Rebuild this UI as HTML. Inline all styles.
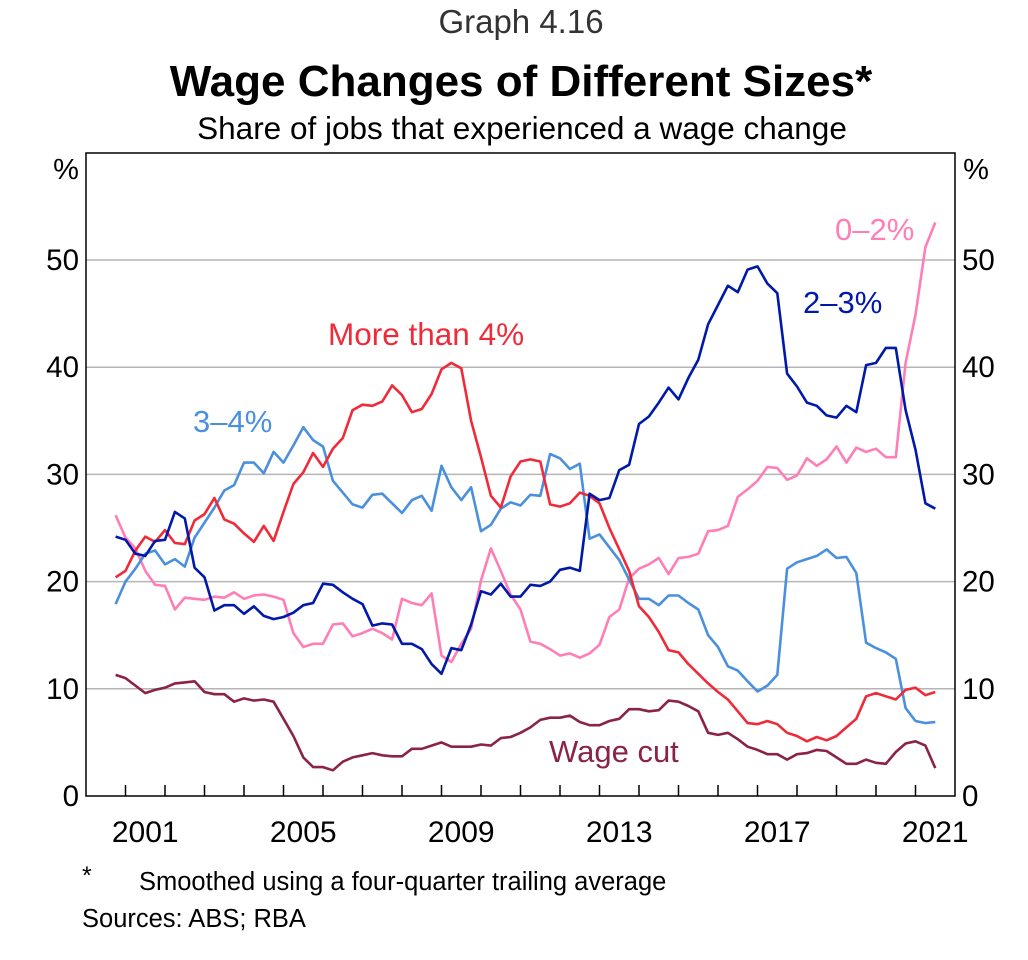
<!DOCTYPE html>
<html><head><meta charset="utf-8">
<style>
body{margin:0;background:#fff;}
svg text{font-family:"Liberation Sans",Arial,sans-serif;}
</style></head>
<body>
<svg id="chart" width="1028" height="955" viewBox="0 0 1028 955" xmlns="http://www.w3.org/2000/svg">
<text x="521" y="33" font-size="33" fill="#333" text-anchor="middle">Graph 4.16</text>
<text x="521" y="96" font-size="44" font-weight="bold" fill="#000" text-anchor="middle">Wage Changes of Different Sizes*</text>
<text x="522" y="139" font-size="31.5" fill="#000" text-anchor="middle">Share of jobs that experienced a wage change</text>
<g id="grid"></g>
<g id="series"></g>
<rect x="86" y="153" width="869" height="643" fill="none" stroke="#000" stroke-width="1.5"/>
<g id="axes"></g>
<text x="66" y="179" font-size="29" text-anchor="middle">%</text>
<text x="976" y="179" font-size="29" text-anchor="middle">%</text>
<text x="835" y="240" font-size="31" fill="#ff7eb6">0–2%</text>
<text x="803" y="313" font-size="31" fill="#0019a8">2–3%</text>
<text x="328" y="345" font-size="31.5" fill="#ef2b3a">More than 4%</text>
<text x="193" y="432" font-size="31" fill="#4a90dd">3–4%</text>
<text x="549" y="762" font-size="31" fill="#8b2346">Wage cut</text>
<text x="82" y="884" font-size="25">*</text>
<text x="139" y="890" font-size="25.5">Smoothed using a four-quarter trailing average</text>
<text x="82" y="927" font-size="25.5">Sources: ABS; RBA</text>
</svg>
<script>
const startYear = 2000.75;
const yTicks = [0,10,20,30,40,50];
const xLabels = ["2001","2005","2009","2013","2017","2021"];
const s34 = [17.9,20.0,21.2,22.6,22.9,21.6,22.1,21.4,24.1,25.5,26.9,28.5,29.0,31.1,31.1,30.1,32.1,31.1,32.7,34.4,33.2,32.6,29.4,28.3,27.2,26.9,28.1,28.2,27.3,26.4,27.6,28.0,26.6,30.8,28.8,27.6,28.8,24.7,25.3,26.8,27.4,27.1,28.1,28.0,31.9,31.5,30.5,31.0,24.0,24.4,23.2,22.0,20.2,18.4,18.4,17.8,18.7,18.7,18.0,17.4,15.0,13.9,12.1,11.7,10.7,9.75,10.3,11.3,21.2,21.8,22.1,22.4,23.0,22.2,22.3,20.8,14.3,13.8,13.4,12.8,8.2,7.0,6.8,6.9];
const s4plus = [20.4,21.0,22.9,24.2,23.7,24.8,23.6,23.5,25.7,26.3,27.8,25.8,25.4,24.5,23.7,25.2,23.8,26.5,29.1,30.2,32.0,30.7,32.4,33.4,36.0,36.5,36.4,36.8,38.3,37.4,35.8,36.1,37.5,39.8,40.4,39.9,35.0,31.6,28.0,26.9,29.8,31.2,31.4,31.2,27.2,27.0,27.3,28.3,28.0,27.3,25.0,23.0,21.0,17.7,16.7,15.3,13.6,13.4,12.3,11.4,10.5,9.7,9.0,7.9,6.8,6.7,7.0,6.7,5.9,5.6,5.1,5.5,5.2,5.6,6.4,7.2,9.3,9.6,9.3,9.0,9.9,10.1,9.4,9.7];
const s23 = [24.2,23.9,22.6,22.4,23.8,23.9,26.5,25.9,21.3,20.4,17.3,17.8,17.8,17.0,17.7,16.8,16.5,16.7,17.1,17.8,18.0,19.8,19.7,19.0,18.4,17.9,15.9,16.1,16.0,14.2,14.2,13.7,12.3,11.4,13.8,13.6,16.0,19.1,18.8,19.8,18.6,18.6,19.7,19.6,20.0,21.1,21.3,21.0,28.2,27.6,27.8,30.4,30.9,34.7,35.4,36.7,38.1,37.0,39.0,40.7,44.0,45.8,47.6,47.0,49.1,49.4,47.8,46.9,39.4,38.2,36.7,36.4,35.5,35.3,36.4,35.8,40.2,40.4,41.8,41.8,36.0,32.3,27.3,26.8];
const s02 = [26.2,24.1,23.1,21.0,19.7,19.6,17.4,18.5,18.4,18.3,18.6,18.5,19.0,18.4,18.7,18.8,18.6,18.3,15.2,13.9,14.2,14.2,16.0,16.1,14.9,15.2,15.6,15.2,14.6,18.4,18.0,17.8,18.9,13.1,12.5,14.2,15.6,20.1,23.1,21.0,18.8,17.4,14.4,14.2,13.7,13.1,13.3,12.9,13.3,14.1,16.7,17.4,20.3,21.2,21.6,22.2,20.7,22.2,22.3,22.6,24.7,24.8,25.2,27.9,28.6,29.4,30.7,30.6,29.5,29.9,31.5,30.8,31.4,32.6,31.1,32.5,32.1,32.4,31.6,31.6,40.4,44.9,51.2,53.5];
const sCut = [11.3,11.0,10.3,9.6,9.9,10.1,10.5,10.6,10.7,9.7,9.5,9.5,8.8,9.1,8.9,9.0,8.8,7.2,5.6,3.6,2.7,2.7,2.4,3.2,3.6,3.8,4.0,3.8,3.7,3.7,4.4,4.4,4.7,5.0,4.6,4.6,4.6,4.8,4.7,5.4,5.5,5.9,6.4,7.1,7.3,7.3,7.5,6.9,6.6,6.6,7.0,7.2,8.1,8.1,7.9,8.0,8.9,8.8,8.4,7.9,5.9,5.7,5.9,5.3,4.6,4.3,3.9,3.9,3.4,3.9,4.0,4.3,4.2,3.6,3.0,3.0,3.4,3.1,3.0,4.1,4.9,5.1,4.7,2.6];

const NS = "http://www.w3.org/2000/svg";
const L = 86, R = 955, T = 153, B = 796;
function xs(t){ return L + (t - 2000) * (R - L) / 22; }
function ys(v){ return B - v * (B - 260) / 50; }
function mk(tag, attrs, parent){
  const e = document.createElementNS(NS, tag);
  for (const k in attrs) e.setAttribute(k, attrs[k]);
  parent.appendChild(e); return e;
}
const grid = document.getElementById('grid');
const axes = document.getElementById('axes');
yTicks.forEach(v => {
  if (v > 0) {
    const g = mk('line', {x1:L, x2:R, y1:ys(v), y2:ys(v), stroke:'#b5b5b5', 'stroke-width':1.5}, grid);
    
    
  }
  const a = mk('text', {x:79, y:ys(v)+10, 'font-size':29.5, 'text-anchor':'end'}, axes);
  a.textContent = v;
  
  
  const b = mk('text', {x:962, y:ys(v)+10, 'font-size':29.5, 'text-anchor':'start'}, axes);
  b.textContent = v;
  
  
});
for (let yr = 2001; yr <= 2021; yr++) {
  const tk = mk('line', {x1:xs(yr), x2:xs(yr), y1:B, y2:B-11, stroke:'#000', 'stroke-width':1.5}, axes);
  
  
}
xLabels.forEach(lbl => {
  const t = mk('text', {x:xs(+lbl + 0.5), y:842, 'font-size':30, 'text-anchor':'middle'}, axes);
  t.textContent = lbl;
  
  
});
const seriesG = document.getElementById('series');
function drawLine(arr, color, name){
  const pts = arr.map((v,i) => xs(startYear + i*0.25).toFixed(1) + ',' + ys(v).toFixed(1)).join(' ');
  const p = mk('polyline', {points:pts, fill:'none', stroke:color, 'stroke-width':2.6, 'stroke-linejoin':'round'}, seriesG);
  
  
}
drawLine(sCut, '#8b2346', 'line-wage-cut');
drawLine(s02, '#ff7eb6', 'line-0-2');
drawLine(s34, '#4a90dd', 'line-3-4');
drawLine(s4plus, '#ef2b3a', 'line-more-than-4');
drawLine(s23, '#0019a8', 'line-2-3');
</script>
</body></html>
